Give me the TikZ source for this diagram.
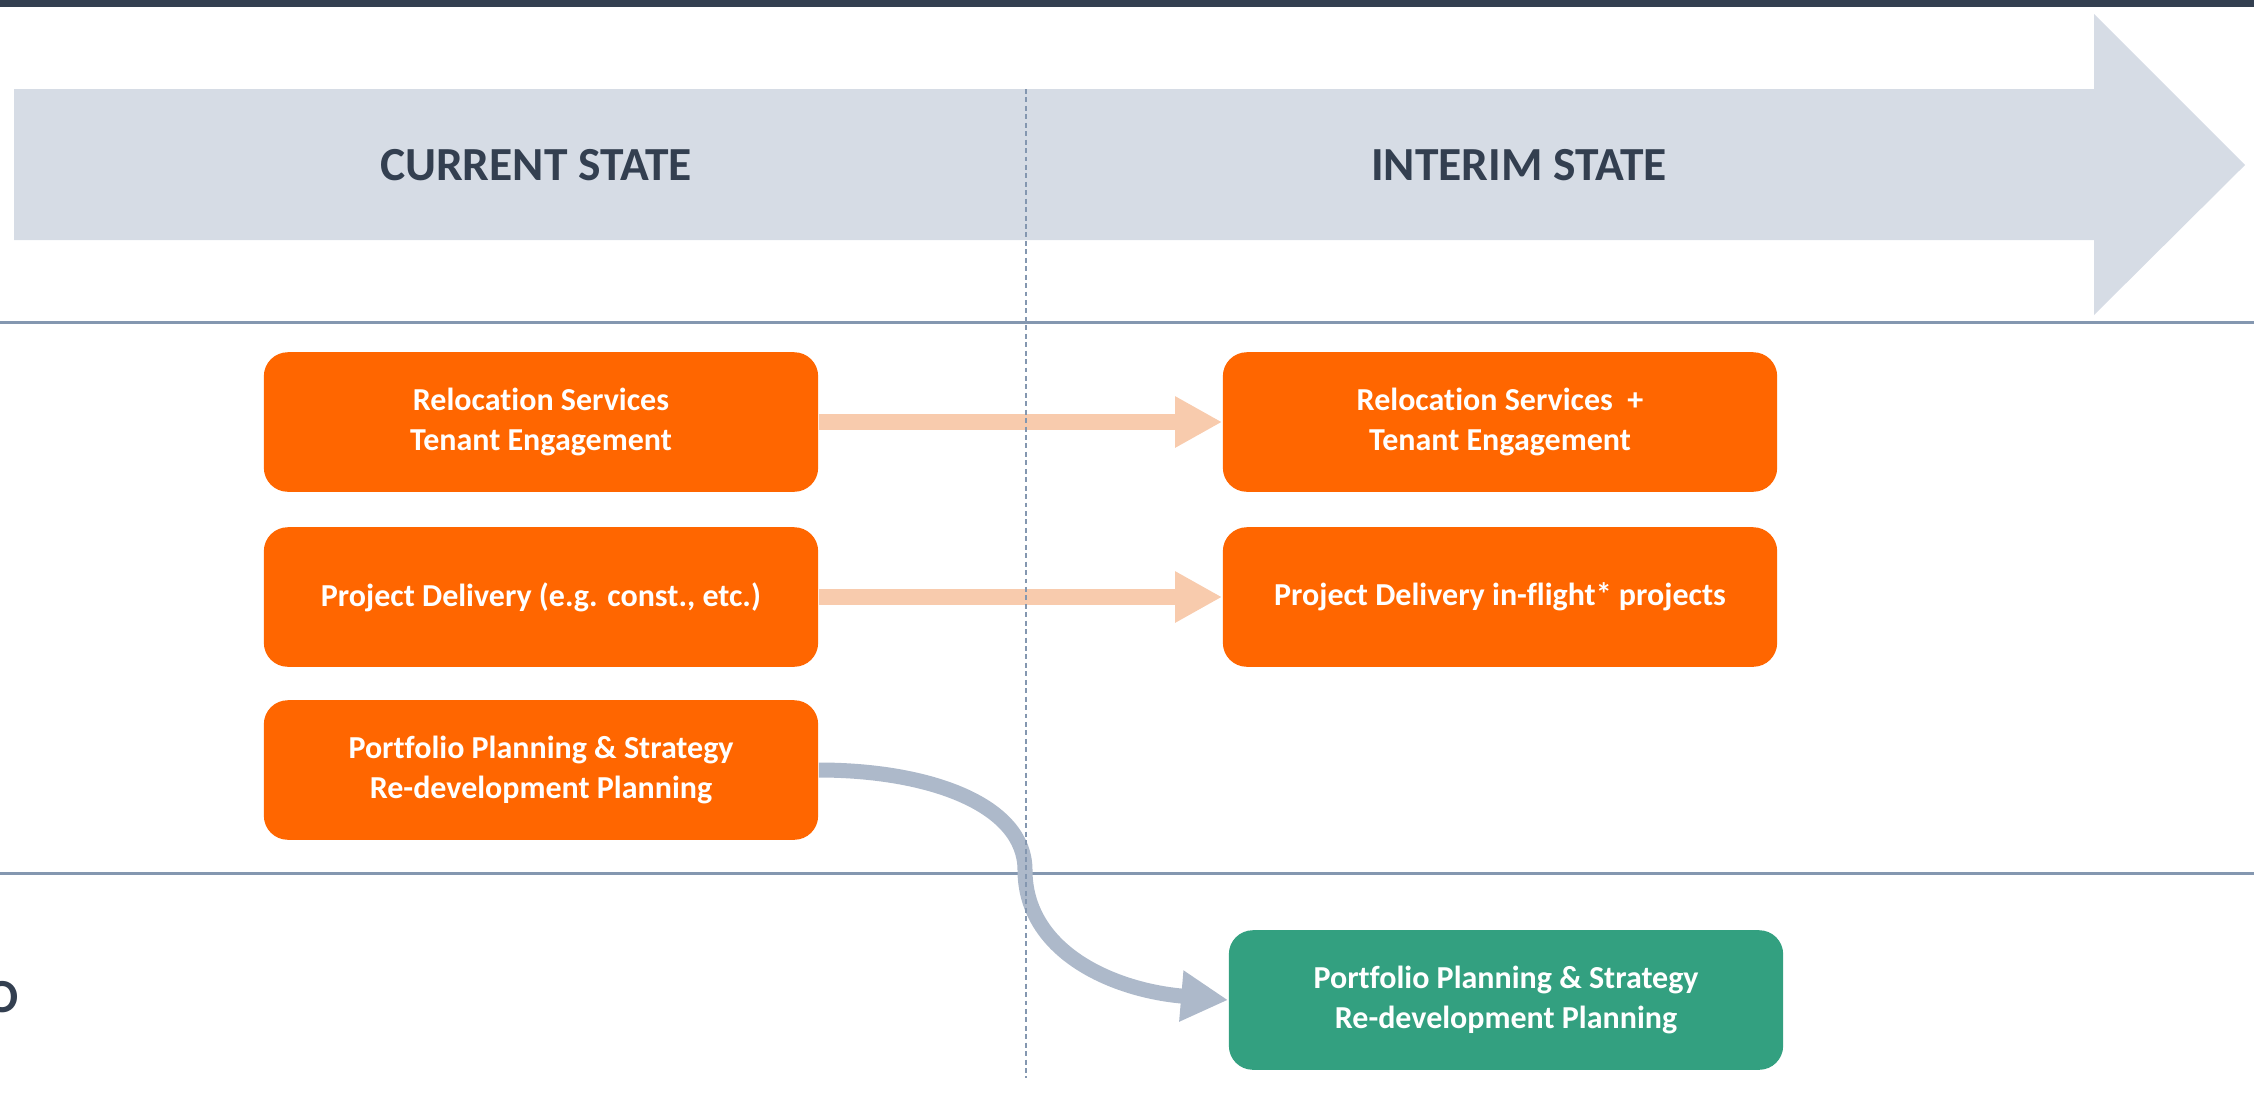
\documentclass[tikz,border=0pt]{standalone}
\usepackage{fontspec}
\setmainfont{Carlito}[Ligatures=NoCommon]
\usetikzlibrary{arrows.meta}

\definecolor{slate}{HTML}{333F50}
\definecolor{banner}{HTML}{D6DCE5}
\definecolor{rulegrey}{HTML}{8497B0}
\definecolor{tangerine}{HTML}{FF6600}
\definecolor{peach}{HTML}{F8CBAD}
\definecolor{steel}{HTML}{ADB9CA}
\definecolor{sage}{HTML}{33A080}

\tikzset{
    box/.style={rectangle, rounded corners=0.24cm, fill=tangerine, text=white,
                minimum width=5.54cm, minimum height=1.395cm, inner sep=0pt,
                align=center, font=\bfseries\fontsize{9.1}{11.2}\selectfont},
    stage/.style={text=slate, font=\bfseries\fontsize{13.5}{16}\selectfont},
    flow/.style={peach, line width=0.16cm, -{Triangle[length=0.47cm, width=0.48cm]}},
    move/.style={flow, steel, line width=0.15cm},
    divider/.style={rulegrey, line width=0.85pt},
    split/.style={rulegrey, line width=0.45pt, dash pattern=on 1.4pt off 1pt},
}

\begin{document}
\begin{tikzpicture}[x=0.01cm, y=-0.01cm]
    \useasboundingbox (0,0) rectangle (2254,1096);

    % top rule and stage banner
    \fill[slate] (0,0) rectangle (2254,7);
    \fill[banner] (14,89) -- (2094,89) -- (2094,14) -- (2245,165)
        -- (2094,315) -- (2094,240) -- (14,240) -- cycle;
    \node[stage] (current) at (536,165) {CURRENT STATE};
    \node[stage] (interim) at (1519,165) {INTERIM STATE};

    % row dividers
    \draw[divider] (0,322) -- (2254,322);
    \draw[divider] (0,873) -- (2254,873);
    \node[stage, anchor=east, inner sep=0pt] (rowlabel) at (19,997) {O};

    \node[box] (reloc) at (541,422) {Relocation Services\\Tenant Engagement};
    \node[box] (delivery) at (541,597) {Project Delivery (e.g. const., etc.)};
    \node[box] (portfolio) at (541,770) {Portfolio Planning \& Strategy\\Re-development Planning};
    \node[box] (relocnext) at (1500,422) {Relocation Services \ +\\Tenant Engagement};
    \node[box] (inflight) at (1500,597) {Project Delivery in-flight* projects};
    \node[box, fill=sage] (portfolionext) at (1506,1000) {Portfolio Planning \& Strategy\\Re-development Planning};

    \draw[flow] (reloc) -- (relocnext);
    \draw[flow] (delivery) -- (inflight);
    \draw[move] (portfolio.east) .. controls (930,770) and (1025,805) .. (1025,870)
        .. controls (1025,950) and (1110,990) .. (portfolionext.west);

    % state boundary
    \draw[split] (1026,89) -- (1026,1078);

\end{tikzpicture}
\end{document}
